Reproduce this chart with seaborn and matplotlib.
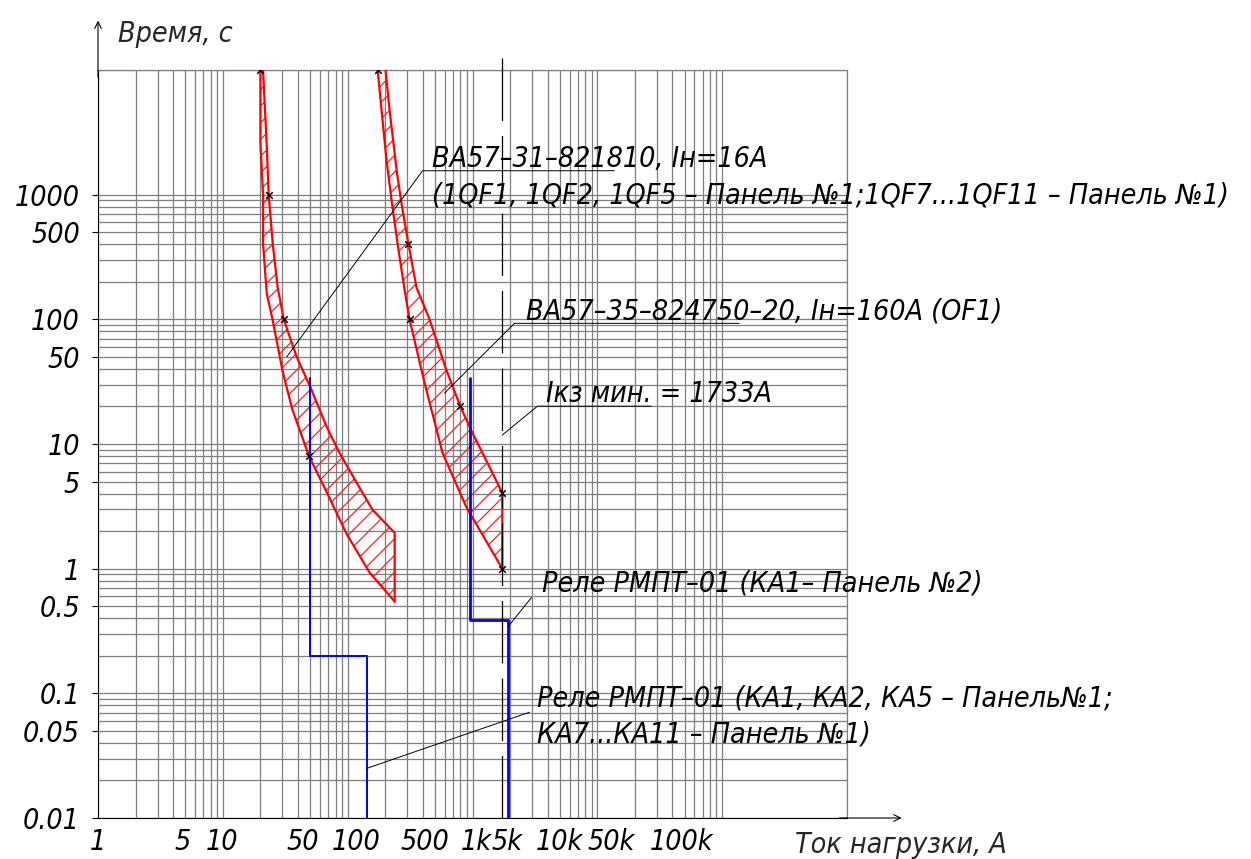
import matplotlib
matplotlib.use("Agg")
import matplotlib.pyplot as plt
import matplotlib.ticker as mticker
from matplotlib import font_manager
import seaborn as sns

# current (A) / time (s)
# breaker BA57-31, In=16A : left and right edge of the band
qf16_left_i = [20, 20, 21, 21, 22.5, 25, 30, 36, 49, 68, 98, 150, 238]
qf16_left_t = [10000, 2560, 1000, 400, 160, 100, 39, 19, 8, 4.1, 1.9, 0.93, 0.545]
qf16_right_i = [21, 22.5, 23.3, 25.1, 27.5, 30.8, 34.4, 39.1, 51.5, 68, 86, 118, 158, 238, 238]
qf16_right_t = [10000, 2400, 1000, 405, 180, 100, 72, 50, 27, 13.7, 8.5, 4.9, 2.97, 1.94, 0.545]
qf16_mark_i = [20, 23.3, 30.8, 49]
qf16_mark_t = [10000, 1000, 100, 8]

# breaker BA57-35, In=160A
qf160_left_i = [174, 187, 205, 225, 251, 286, 313, 413, 575, 895, 1733]
qf160_left_t = [10000, 4700, 1870, 895, 405, 171, 100, 31, 8.5, 3.1, 1.0]
qf160_right_i = [201, 217, 247, 270, 307, 356, 453, 619, 800, 982, 1202, 1733, 1733]
qf160_right_t = [10000, 4700, 1556, 847, 400, 180, 100, 39, 20, 12.7, 8.5, 4.06, 1.0]
qf160_mark_i = [174, 307, 313, 800, 1733, 1733]
qf160_mark_t = [10000, 400, 100, 20, 4.06, 1.0]

# relays RMPT-01
relay1_i = [50, 50, 142, 142]
relay1_t = [34, 0.2, 0.2, 0.01]
relay2_i = [960, 960, 1920, 1920]
relay2_t = [34, 0.39, 0.39, 0.01]

ikz_min = 1733

x_labels = ["1", "5", "10", "50", "100", "500", "1k", "5k", "10k", "50k", "100k"]
y_labels = ["1000", "500", "100", "50", "10", "5", "1", "0.5", "0.1", "0.05", "0.01"]
y_values = [1000, 500, 100, 50, 10, 5, 1, 0.5, 0.1, 0.05, 0.01]

# label spots as they sit on the drawing (not on the true values)
x_label_at = [1, 4.8, 9.8, 44, 116, 413, 1076, 1905, 4966, 12940, 46990]

# log paper lines
x_grid = [m * 10 ** k for k in range(0, 5) for m in range(1, 10)] + [1e5, 1e6]
y_grid = [m * 10.0 ** k for k in range(-2, 3) for m in range(1, 10)] + [1e3, 1e4]

notes = [
    # text, (I, t) of text baselines, leader polyline
    (["ВА57–31–821810, Iн=16А",
      "(1QF1, 1QF2, 1QF5 – Панель №1;1QF7...1QF11 – Панель №1)"],
     [(470, 1675), (470, 847)],
     [(32.5, 50), (398, 1556), (13680, 1556)]),
    (["ВА57–35–824750–20, Iн=160А (OF1)"], [(2704, 100)],
     [(597, 25.6), (2168, 92.9), (136800, 92.9)]),
    (["Iкз мин. = 1733А"], [(3908, 21.7)],
     [(1733, 11.8), (3311, 20.1), (27040, 20.1)]),
    (["Реле РМПТ–01 (КА1– Панель №2)"], [(3631, 0.655)],
     [(1930, 0.343), (2965, 0.586)]),
    (["Реле РМПТ–01 (КА1, КА2, КА5 – Панель№1;", "КА7...КА11 – Панель №1)"],
     [(3311, 0.0787), (3311, 0.0406)],
     [(142, 0.025), (2858, 0.0705)]),
]


def pick_font():
    try:
        font_manager.findfont(font_manager.FontProperties(family="Liberation Sans Narrow"),
                              fallback_to_default=False)
        return "Liberation Sans Narrow", "normal", 25.5
    except ValueError:
        pass
    path = font_manager.findfont(font_manager.FontProperties(
        family="DejaVu Sans", style="oblique", stretch="condensed"))
    if "Condensed" in path:
        return "DejaVu Sans", "condensed", 20.5
    return "DejaVu Sans", "normal", 18.5


sns.set_theme(style="white")
font, stretch, fs = pick_font()
plt.rcParams["font.family"] = [font, "DejaVu Sans"]
plt.rcParams["font.style"] = "italic"
plt.rcParams["font.stretch"] = stretch
plt.rcParams["hatch.linewidth"] = 0.9

fig = plt.figure(figsize=(12.51, 8.59), dpi=100)
ax = fig.add_axes([98 / 1251, 41 / 859, 749 / 1251, 748 / 859])
ax.set_xscale("log")
ax.set_yscale("log")
ax.set_xlim(1, 1e6)
ax.set_ylim(0.01, 1e4)

ax.xaxis.set_minor_locator(mticker.FixedLocator(x_grid))
ax.yaxis.set_minor_locator(mticker.FixedLocator(y_grid))
ax.xaxis.set_minor_formatter(mticker.NullFormatter())
ax.yaxis.set_minor_formatter(mticker.NullFormatter())
ax.xaxis.remove_overlapping_locs = False
ax.yaxis.remove_overlapping_locs = False
ax.grid(False, which="major")
ax.grid(True, which="minor", color="#7f7f7f", lw=0.9)

ax.set_xticks(x_label_at, x_labels)
ax.set_yticks(y_values, y_labels)
ax.tick_params(which="minor", length=0)
ax.tick_params(axis="x", which="major", length=0, pad=7, labelsize=fs, colors="black")
ax.tick_params(axis="y", which="major", left=True, length=4, width=0.8, pad=9,
               labelsize=fs, colors="black")

for side in ["top", "right"]:
    ax.spines[side].set_color("#7f7f7f")
    ax.spines[side].set_linewidth(0.9)
for side in ["left", "bottom"]:
    ax.spines[side].set_color("black")
    ax.spines[side].set_linewidth(0.8)

arrow = dict(arrowstyle="->", color="black", lw=0.8, shrinkA=0, shrinkB=0, mutation_scale=12)
ax.annotate("", xy=(0, 1.066), xytext=(0, 0.99), xycoords="axes fraction",
            arrowprops=arrow, annotation_clip=False)
ax.annotate("", xy=(1.073, 0), xytext=(0.99, 0), xycoords="axes fraction",
            arrowprops=arrow, annotation_clip=False)

# breaker bands
for li, lt, ri, rt, mi, mt in [
        (qf16_left_i, qf16_left_t, qf16_right_i, qf16_right_t, qf16_mark_i, qf16_mark_t),
        (qf160_left_i, qf160_left_t, qf160_right_i, qf160_right_t, qf160_mark_i, qf160_mark_t)]:
    ax.fill(li + ri[::-1], lt + rt[::-1], facecolor="none", edgecolor="#ff2020",
            hatch="//", linewidth=0, zorder=2)
    sns.lineplot(x=li, y=lt, sort=False, estimator=None, color="red", lw=1.6, ax=ax, zorder=3)
    sns.lineplot(x=ri, y=rt, sort=False, estimator=None, color="red", lw=1.6, ax=ax, zorder=3)
    sns.scatterplot(x=mi, y=mt, marker="x", color="black", s=22, linewidth=1.1, ax=ax, zorder=4)

sns.lineplot(x=relay1_i, y=relay1_t, sort=False, estimator=None, color="blue", lw=1.4, ax=ax, zorder=3)
sns.lineplot(x=relay2_i, y=relay2_t, sort=False, estimator=None, color="blue", lw=2.0, ax=ax, zorder=3)

ax.axvline(ikz_min, ymin=0, ymax=1.016, color="black", lw=0.9, dashes=(50, 12),
           clip_on=False, zorder=3)

for lines, spots, leader in notes:
    ax.plot([p[0] for p in leader], [p[1] for p in leader], color="black", lw=0.7,
            clip_on=False, zorder=4)
    for s, (xi, ti) in zip(lines, spots):
        ax.text(xi, ti, s, ha="left", va="baseline", fontsize=fs, color="black")

ax.set_xlabel("")
ax.set_ylabel("")
fig.text(118 / 1251, 1 - 42 / 859, "Время, с", ha="left", va="baseline", fontsize=fs)
fig.text(795 / 1251, 1 - 853 / 859, "Ток нагрузки, А", ha="left", va="baseline", fontsize=fs)

fig.savefig("out.png", dpi=100, facecolor="white")
